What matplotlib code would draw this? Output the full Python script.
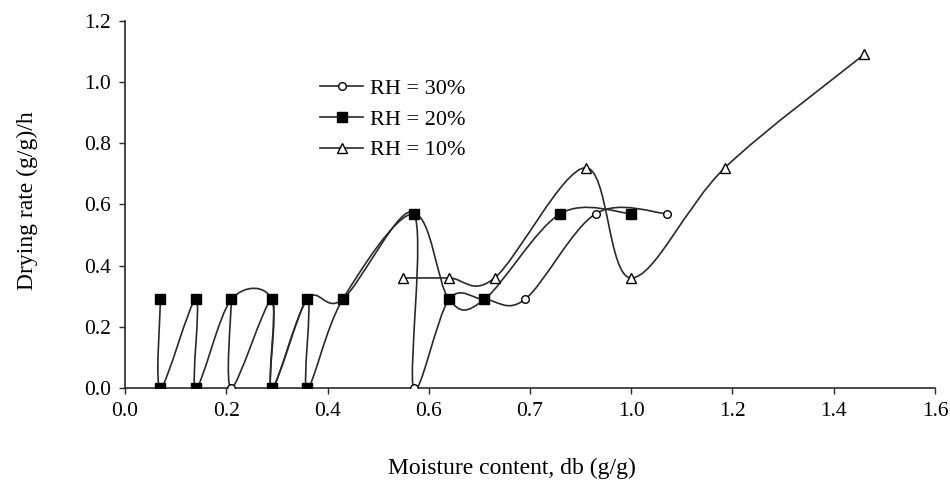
import numpy as np
import matplotlib
matplotlib.use("Agg")
import matplotlib.pyplot as plt
from matplotlib.path import Path
from matplotlib.patches import PathPatch
from matplotlib.lines import Line2D

# moisture content (g/g, dry basis) and drying rate ((g/g)/h), in plotting order
mc_30 = [1.07, 0.93, 0.79, 0.71, 0.64, 0.57, 0.57, 0.43, 0.36, 0.29, 0.29, 0.21, 0.21]
rate_30 = [0.57, 0.57, 0.29, 0.29, 0.29, 0.00, 0.57, 0.29, 0.29, 0.00, 0.29, 0.00, 0.29]

mc_20 = [1.00, 0.86, 0.71, 0.64, 0.57, 0.43, 0.36, 0.36, 0.29, 0.29, 0.21, 0.14, 0.14, 0.07, 0.07]
rate_20 = [0.57, 0.57, 0.29, 0.29, 0.57, 0.29, 0.00, 0.29, 0.00, 0.29, 0.29, 0.00, 0.29, 0.00, 0.29]

mc_10 = [1.46, 1.185, 1.00, 0.91, 0.73, 0.64, 0.55]
rate_10 = [1.09, 0.72, 0.36, 0.72, 0.36, 0.36, 0.36]

labels = ["RH = 30%", "RH = 20%", "RH = 10%"]
x_ticks = [0.0, 0.2, 0.4, 0.6, 0.8, 1.0, 1.2, 1.4, 1.6]
x_tick_labels = ["0.0", "0.2", "0.4", "0.6", "0.7", "1.0", "1.2", "1.4", "1.6"]
y_ticks = [0.0, 0.2, 0.4, 0.6, 0.8, 1.0, 1.2]

XMAX, YMAX = 1.6, 1.2


def smooth_path(x, y, sx, sy):
    """Excel-style smoothed line: cubic Bezier through the points (Catmull-Rom tangents)."""
    p = np.column_stack([np.asarray(x) * sx, np.asarray(y) * sy])
    n = len(p)
    verts = [p[0]]
    codes = [Path.MOVETO]
    for i in range(n - 1):
        p0 = p[i - 1] if i > 0 else p[i]
        p1, p2 = p[i], p[i + 1]
        p3 = p[i + 2] if i + 2 < n else p[i + 1]
        c1 = p1 + (p2 - p0) / 6.0
        c2 = p2 - (p3 - p1) / 6.0
        verts += [c1, c2, p2]
        codes += [Path.CURVE4] * 3
    verts = np.array(verts)
    verts[:, 0] /= sx
    verts[:, 1] /= sy
    return Path(verts, codes)


plt.rcParams['font.family'] = ['Liberation Serif', 'DejaVu Serif']
plt.rcParams['mathtext.fontset'] = 'stix'

fig = plt.figure(figsize=(9.5, 4.84), dpi=100)
ax = fig.add_axes([0.1316, 0.198, 0.8526, 0.759])

# pixel scale of each axis, so the smoothing behaves as on screen
sx = 810 / XMAX
sy = 367 / YMAX

line_col = '#2a2a2a'
styles = [
    dict(marker='o', ms=5.5, mfc='white', mec='black'),
    dict(marker='s', ms=7, mfc='black', mec='black'),
    dict(marker='^', ms=7, mfc='white', mec='black'),
]
series = [(mc_30, rate_30), (mc_20, rate_20), (mc_10, rate_10)]

for (x, y), st in zip(series, styles):
    ax.add_patch(PathPatch(smooth_path(x, y, sx, sy), fill=False,
                           edgecolor=line_col, lw=1.2, zorder=2))
    ax.plot(x, y, ls='none', mew=1.0, zorder=3, **st)

ax.set_xlim(0, XMAX)
ax.set_ylim(0, YMAX)
ax.set_xticks(x_ticks)
ax.set_xticklabels(x_tick_labels)
ax.set_yticks(y_ticks)
ax.set_yticklabels(["%.1f" % v for v in y_ticks])

for s in ['top', 'right']:
    ax.spines[s].set_visible(False)
for s in ['left', 'bottom']:
    ax.spines[s].set_color(line_col)
    ax.spines[s].set_linewidth(1.2)
ax.tick_params(direction='out', length=4, width=1.0, colors=line_col,
               labelsize=15.5, labelcolor='black', pad=6)

ax.set_xlabel("Moisture content, db (g/g)", fontsize=17)
ax.xaxis.set_label_coords(0.478, -0.19)
ax.set_ylabel("Drying rate (g/g)/h", fontsize=17)
ax.yaxis.set_label_coords(-0.108, 0.51)

handles = [Line2D([], [], color=line_col, lw=1.2, mew=1.0, **st) for st in styles]
ax.legend(handles, labels, loc='upper left', bbox_to_anchor=(0.222, 0.885),
          frameon=False, fontsize=16, handlelength=1.9, handletextpad=0.35,
          labelspacing=0.45, borderpad=0.2)

fig.savefig("out.png", dpi=100)
